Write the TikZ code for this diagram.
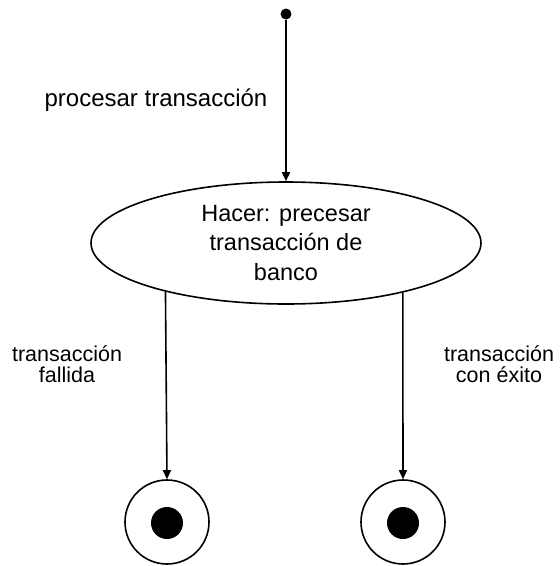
\documentclass[tikz,border=0pt]{standalone}
\usepackage{fontspec}
\setmainfont{Liberation Sans}
\usetikzlibrary{shapes.geometric,arrows.meta}
\begin{document}
\begin{tikzpicture}[x=1pt,y=-1pt,
  line/.style={line width=1.6pt, draw=black},
  arr/.style={line, -{Triangle[length=9pt,width=8pt]}},
  lbl/.style={font=\fontsize{21.5}{21}\selectfont, align=center, inner sep=0pt},
  endouter/.style={circle, line, minimum size=84pt, inner sep=0pt},
  endinner/.style={circle, fill=black, minimum size=32pt, inner sep=0pt}]
\useasboundingbox (0,0) rectangle (560,566);
\node[circle, fill=black, minimum size=11pt, inner sep=0pt] (start) at (286,14) {};
\node[ellipse, line, minimum width=390pt, minimum height=122pt, inner sep=0pt,
      align=center, font=\fontsize{23.5}{29.5}\selectfont] (act) at (286,243)
      {Hacer: precesar\\transacción de\\banco};
\node[font=\fontsize{24}{28}\selectfont, inner sep=0pt] (ltop) at (156,100) {procesar transacción};
\node[endouter] (end1) at (167,522) {};
\node[endinner] (dot1) at (167,523) {};
\node[endouter] (end2) at (403,522) {};
\node[endinner] (dot2) at (403,523) {};
\node[lbl] (lfail) at (67,364) {transacción\\fallida};
\node[lbl] (lok) at (499,364) {transacción\\con éxito};
\draw[arr] (start) -- (act.north);
\draw[arr] (act.202.4) -- (end1.north);
\draw[arr] (act.337.6) -- (end2.north);
\end{tikzpicture}
\end{document}
